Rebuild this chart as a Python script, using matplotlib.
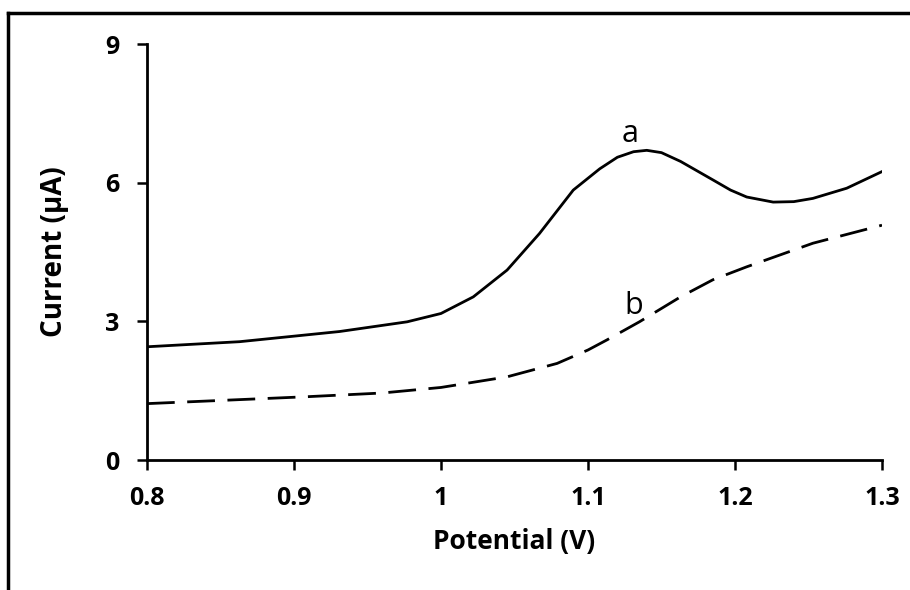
import matplotlib.pyplot as plt
from matplotlib.lines import Line2D

# curve a (solid) and curve b (dashed)
pot_a = [0.8, 0.863, 0.931, 0.977, 1.0, 1.022, 1.045, 1.067, 1.09, 1.108,
         1.12, 1.131, 1.14, 1.15, 1.163, 1.185, 1.197, 1.208, 1.226, 1.24,
         1.253, 1.276, 1.3]
cur_a = [2.45, 2.56, 2.78, 2.99, 3.17, 3.53, 4.11, 4.9, 5.84, 6.3,
         6.55, 6.67, 6.7, 6.65, 6.46, 6.06, 5.84, 5.69, 5.58, 5.59,
         5.66, 5.88, 6.24]

pot_b = [0.8, 0.909, 0.96, 1.0, 1.045, 1.079, 1.1, 1.113, 1.135, 1.163,
         1.185, 1.208, 1.253, 1.3]
cur_b = [1.22, 1.37, 1.45, 1.57, 1.8, 2.09, 2.38, 2.6, 2.99, 3.53,
         3.9, 4.18, 4.69, 5.08]

xticks = [0.8, 0.9, 1.0, 1.1, 1.2, 1.3]
xtick_labels = ['0.8', '0.9', '1', '1.1', '1.2', '1.3']
yticks = [0, 3, 6, 9]

plt.rcParams['font.family'] = ['Open Sans', 'DejaVu Sans']

fig = plt.figure(figsize=(9.1, 5.9), dpi=100)
ax = fig.add_axes([0.1615, 0.2203, 0.8077, 0.7051])

ax.plot(pot_a, cur_a, color='black', linewidth=2)
ax.plot(pot_b, cur_b, color='black', linewidth=2, linestyle=(0, (10, 4.5)))

ax.text(1.1285, 6.88, 'a', fontsize=22, ha='center', va='baseline')
ax.text(1.131, 3.16, 'b', fontsize=22, ha='center', va='baseline')

ax.set_xlim(0.8, 1.3)
ax.set_ylim(0, 9)
ax.set_xticks(xticks)
ax.set_xticklabels(xtick_labels)
ax.set_yticks(yticks)
for lab in ax.get_xticklabels() + ax.get_yticklabels():
    lab.set_fontweight('bold')
    lab.set_fontsize(18)
ax.tick_params(direction='out', length=7, width=1.8)
ax.tick_params(axis='x', pad=12)
ax.tick_params(axis='y', pad=13)

for side in ['top', 'right']:
    ax.spines[side].set_visible(False)
for side in ['left', 'bottom']:
    ax.spines[side].set_linewidth(2)

ax.set_xlabel('Potential (V)', fontsize=19, fontweight='bold', labelpad=12)
ax.set_ylabel('Current (µA)', fontsize=20, fontweight='bold', labelpad=26)

# outer frame, cut off at right and bottom like the picture
fig.add_artist(Line2D([8 / 910, 1.0], [1 - 13 / 590, 1 - 13 / 590],
                      transform=fig.transFigure, color='black', linewidth=2.5))
fig.add_artist(Line2D([8 / 910, 8 / 910], [0, 1 - 13 / 590],
                      transform=fig.transFigure, color='black', linewidth=2.5))

fig.savefig('out.png', dpi=100)
